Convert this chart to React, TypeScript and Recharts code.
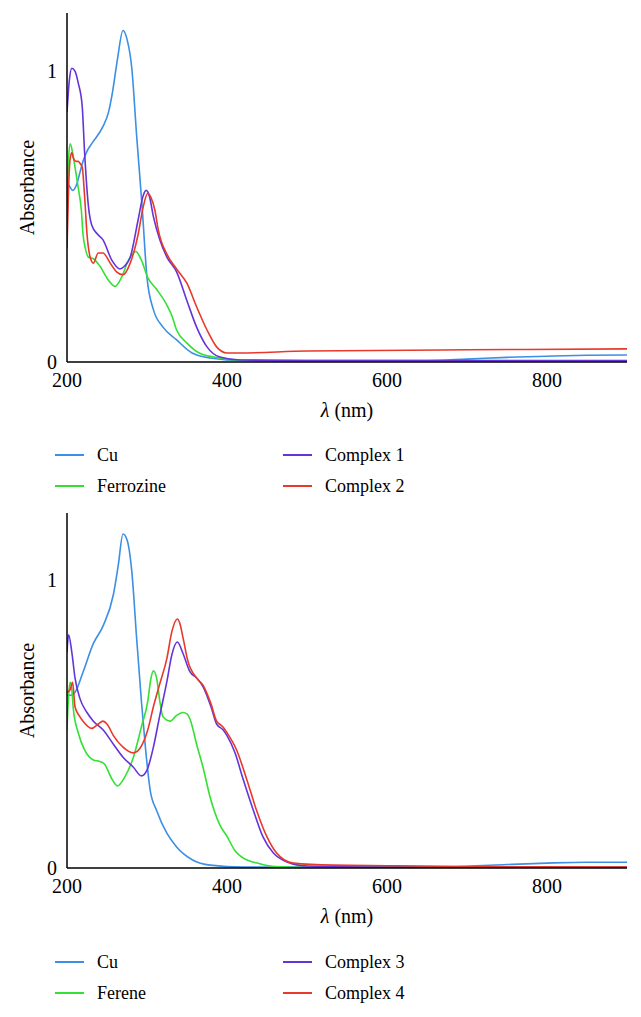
import React from 'react';
import { LineChart, Line, XAxis, YAxis, Label } from 'recharts';

const FONT = 'Liberation Serif, Times New Roman, DejaVu Serif, serif';

// Wavelength ticks and absorbance ticks
const xTicks = [200, 400, 600, 800];
const yTicks = [0, 1];

// ---------- Top panel (Ferrozine system) ----------
const topCuWl = [200, 204, 207, 212, 216, 220, 226, 232, 245, 252, 257, 263, 270, 275, 281, 287, 294, 300, 308, 320, 337, 357, 379, 420, 500, 650, 700, 750, 800, 850, 900];
const topCuAbs = [0.62, 0.6, 0.59, 0.61, 0.65, 0.69, 0.73, 0.755, 0.81, 0.86, 0.93, 1.04, 1.14, 1.11, 1.01, 0.78, 0.53, 0.29, 0.18, 0.12, 0.076, 0.03, 0.014, 0.005, 0.005, 0.005, 0.01, 0.016, 0.02, 0.023, 0.024];

const topFerWl = [200, 202, 204, 207, 210, 214, 218, 220, 223, 227, 233, 241, 252, 260, 268, 276, 286, 293, 301, 312, 325, 331, 337, 350, 366, 391, 416, 500, 900];
const topFerAbs = [0.5, 0.7, 0.75, 0.72, 0.67, 0.6, 0.52, 0.44, 0.39, 0.36, 0.355, 0.33, 0.28, 0.26, 0.29, 0.345, 0.38, 0.35, 0.29, 0.25, 0.195, 0.16, 0.11, 0.065, 0.03, 0.014, 0.006, 0.003, 0.003];

const topC1Wl = [200, 203, 206, 210, 214, 219, 222, 227, 231, 238, 245, 256, 266, 272, 279, 289, 295, 299, 303, 308, 316, 325, 337, 350, 362, 375, 391, 416, 500, 900];
const topC1Abs = [0.86, 0.97, 1.01, 1.0, 0.96, 0.88, 0.72, 0.53, 0.47, 0.44, 0.42, 0.35, 0.32, 0.33, 0.36, 0.49, 0.57, 0.59, 0.57, 0.5, 0.42, 0.36, 0.31, 0.21, 0.12, 0.052, 0.017, 0.007, 0.005, 0.005];

const topC2Wl = [200, 202, 204, 206, 208, 211, 214, 217, 219, 222, 225, 229, 233, 239, 245, 254, 262, 270, 279, 289, 295, 301, 305, 310, 314, 325, 337, 350, 362, 375, 387, 400, 416, 500, 700, 900];
const topC2Abs = [0.39, 0.6, 0.7, 0.72, 0.7, 0.69, 0.69, 0.68, 0.67, 0.57, 0.44, 0.36, 0.34, 0.375, 0.375, 0.34, 0.31, 0.3, 0.34, 0.44, 0.53, 0.58, 0.565, 0.52, 0.455, 0.37, 0.32, 0.27, 0.19, 0.11, 0.052, 0.031, 0.031, 0.038, 0.042, 0.045];

// ---------- Bottom panel (Ferene system) ----------
const botCuWl = [200, 205, 210, 220, 233, 245, 258, 264, 270, 275, 281, 287, 293, 298, 304, 312, 325, 337, 357, 379, 420, 650, 700, 750, 800, 850, 900];
const botCuAbs = [0.6, 0.6, 0.61, 0.68, 0.78, 0.84, 0.95, 1.05, 1.16, 1.14, 1.03, 0.8, 0.58, 0.42, 0.27, 0.2, 0.12, 0.073, 0.028, 0.01, 0.003, 0.003, 0.006, 0.012, 0.017, 0.02, 0.02];

const botFerWl = [200, 202, 204, 206, 208, 214, 222, 233, 241, 247, 256, 263, 272, 283, 293, 301, 305, 308, 312, 316, 320, 329, 337, 345, 350, 354, 362, 370, 379, 391, 400, 410, 420, 441, 460, 500, 900];
const botFerAbs = [0.48, 0.6, 0.645, 0.62, 0.55, 0.47, 0.41, 0.375, 0.37, 0.36, 0.31, 0.285, 0.315, 0.385, 0.49, 0.58, 0.66, 0.685, 0.66, 0.58, 0.525, 0.51, 0.53, 0.54, 0.535, 0.515, 0.43, 0.35, 0.245, 0.15, 0.11, 0.06, 0.035, 0.015, 0.005, 0.002, 0.002];

const botC3Wl = [200, 202, 206, 210, 216, 225, 233, 245, 258, 270, 283, 293, 300, 308, 316, 325, 331, 338, 345, 354, 362, 370, 380, 387, 395, 400, 410, 420, 433, 445, 458, 475, 500, 600, 900];
const botC3Abs = [0.75, 0.81, 0.75, 0.66, 0.59, 0.54, 0.51, 0.48, 0.43, 0.385, 0.35, 0.32, 0.34, 0.42, 0.53, 0.65, 0.74, 0.785, 0.745, 0.68, 0.66, 0.63, 0.56, 0.5, 0.48, 0.46, 0.4, 0.31, 0.2, 0.108, 0.052, 0.021, 0.007, 0.003, 0.002];

const botC4Wl = [200, 204, 207, 210, 215, 220, 231, 239, 245, 250, 258, 270, 283, 291, 301, 308, 316, 325, 331, 338, 341, 345, 351, 362, 370, 380, 387, 395, 400, 412, 425, 437, 450, 462, 483, 533, 600, 700, 900];
const botC4Abs = [0.61, 0.62, 0.645, 0.56, 0.53, 0.51, 0.485, 0.5, 0.51, 0.5, 0.46, 0.42, 0.4, 0.415, 0.48, 0.56, 0.64, 0.73, 0.82, 0.865, 0.85, 0.8, 0.72, 0.66, 0.635, 0.57, 0.51, 0.49, 0.47, 0.41, 0.305, 0.2, 0.108, 0.052, 0.017, 0.01, 0.008, 0.005, 0.003];

const COLORS = { cu: '#3b8fe5', lig: '#34e034', ca: '#6434d9', cb: '#e8392b' };

const toPts = (wl: number[], ab: number[]) => wl.map((w, i) => ({ wl: w, a: ab[i] }));

const topSeries = [
  { name: 'Cu', color: COLORS.cu, data: toPts(topCuWl, topCuAbs) },
  { name: 'Ferrozine', color: COLORS.lig, data: toPts(topFerWl, topFerAbs) },
  { name: 'Complex 1', color: COLORS.ca, data: toPts(topC1Wl, topC1Abs) },
  { name: 'Complex 2', color: COLORS.cb, data: toPts(topC2Wl, topC2Abs) },
];
const botSeries = [
  { name: 'Cu', color: COLORS.cu, data: toPts(botCuWl, botCuAbs) },
  { name: 'Ferene', color: COLORS.lig, data: toPts(botFerWl, botFerAbs) },
  { name: 'Complex 3', color: COLORS.ca, data: toPts(botC3Wl, botC3Abs) },
  { name: 'Complex 4', color: COLORS.cb, data: toPts(botC4Wl, botC4Abs) },
];

type S = { name: string; color: string; data: { wl: number; a: number }[] };

function Panel({ series, yMax, marginBottom }: { series: S[]; yMax: number; marginBottom: number }) {
  return (
    <LineChart width={641} height={430} margin={{ top: 13, right: 14, left: 0, bottom: marginBottom }} style={{ fontFamily: FONT }}>
      <XAxis
        dataKey="wl"
        type="number"
        domain={[200, 900]}
        ticks={xTicks}
        allowDataOverflow
        tickLine={false}
        axisLine={{ stroke: '#000', strokeWidth: 1.5 }}
        tick={{ fill: '#000', fontSize: 20, fontFamily: FONT }}
        tickMargin={5}
        height={56}
      >
        <Label
          content={(p: any) => {
            const vb = p.viewBox || {};
            return (
              <text x={vb.x + vb.width / 2} y={vb.y + vb.height - 1} textAnchor="middle" fontSize={20} fontFamily={FONT} fill="#000">
                <tspan fontStyle="italic">λ</tspan> (nm)
              </text>
            );
          }}
        />
      </XAxis>
      <YAxis
        type="number"
        domain={[0, yMax]}
        ticks={yTicks}
        allowDataOverflow
        width={67}
        tickLine={false}
        axisLine={{ stroke: '#000', strokeWidth: 1.5 }}
        tick={{ fill: '#000', fontSize: 20, fontFamily: FONT }}
        tickMargin={4}
      >
        <Label
          content={(p: any) => {
            const vb = p.viewBox || {};
            const cx = 27;
            const cy = vb.y + vb.height / 2;
            return (
              <text x={cx} y={cy} transform={`rotate(-90 ${cx} ${cy})`} textAnchor="middle" dominantBaseline="central" fontSize={20} fontFamily={FONT} fill="#000">
                Absorbance
              </text>
            );
          }}
        />
      </YAxis>
      {series.map((s) => (
        <Line
          key={s.name}
          data={s.data}
          dataKey="a"
          type="monotone"
          stroke={s.color}
          strokeWidth={1.6}
          dot={false}
          activeDot={false}
          isAnimationActive={false}
        />
      ))}
    </LineChart>
  );
}

function LegendBlock({ series, top }: { series: S[]; top: number }) {
  return (
    <>
      {series.map((s, i) => {
        const col = i < 2 ? 0 : 1;
        const row = i % 2;
        return (
          <div
            key={s.name}
            style={{
              position: 'absolute',
              left: col === 0 ? 55 : 283,
              top: top + row * 31 - 12,
              height: 24,
              display: 'flex',
              alignItems: 'center',
              fontFamily: FONT,
              fontSize: 18,
              color: '#000',
              whiteSpace: 'nowrap',
            }}
          >
            <div style={{ width: 29, height: 2, background: s.color, marginRight: 13 }} />
            <span>{s.name}</span>
          </div>
        );
      })}
    </>
  );
}

export default function App() {
  return (
    <div style={{ position: 'absolute', left: 0, top: 0, width: 641, height: 1017, background: '#fff', overflow: 'hidden', fontFamily: FONT }}>
      <div style={{ position: 'absolute', left: 0, top: 0 }}>
        <Panel series={topSeries} yMax={1.2} marginBottom={12} />
      </div>
      <LegendBlock series={topSeries} top={455} />
      <div style={{ position: 'absolute', left: 0, top: 500 }}>
        <Panel series={botSeries} yMax={1.233} marginBottom={6} />
      </div>
      <LegendBlock series={botSeries} top={962} />
    </div>
  );
}
